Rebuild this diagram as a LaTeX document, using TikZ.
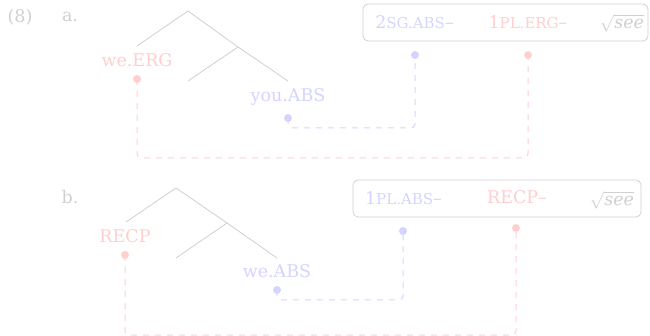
\documentclass[tikz,border=0pt]{standalone}
\usepackage{fontspec}
\setmainfont{DejaVu Serif}
\definecolor{gr}{RGB}{208,208,208}
\definecolor{rd}{RGB}{255,207,207}
\definecolor{bl}{RGB}{212,212,255}
\newcommand{\fsc}[1]{{\fontsize{15}{18}\selectfont #1}}
\begin{document}
\begin{tikzpicture}[x=1pt,y=-1pt,
  every node/.style={font=\fontsize{17.5}{21}\selectfont,inner sep=0pt},
  tree/.style={draw=gr,line width=0.8pt},
  rdot/.style={circle,fill=rd,minimum size=8pt,inner sep=0pt},
  bdot/.style={circle,fill=bl,minimum size=8pt,inner sep=0pt},
  rlink/.style={draw=rd,line width=1pt,dash pattern=on 6pt off 6pt,rounded corners=4pt},
  blink/.style={draw=bl,line width=1pt,dash pattern=on 6pt off 6pt,rounded corners=4pt},
  morphbox/.style={draw=gr,line width=0.8pt,rounded corners=5pt,minimum height=37pt,inner sep=0pt}]
\useasboundingbox (0,0) rectangle (650,336);
% labels
\node[text=gr] (ex) at (20,17) {(8)};
\node[text=gr] (la) at (70,17) {a.};
\node[text=gr] (lb) at (70,197) {b.};
% ---- a ----
\coordinate (aT) at (188,11);
\coordinate (aL) at (137,46);
\coordinate (aM) at (238,47);
\coordinate (aML) at (188,81);
\coordinate (aMR) at (288,81);
\draw[tree] (aL) -- (aT) -- (aM) -- (aMR);
\draw[tree] (aM) -- (aML);
\node[text=rd] (weerg) at (137,60) {we.ERG};
\node[text=bl] (youabs) at (288,97) {you.ABS};
\node[morphbox,minimum width=285pt] (boxa) at (505.5,22.5) {};
\node[text=bl] (m2sg) at (414.5,22) {2\fsc{SG.ABS}--};
\node[text=rd] (m1pl) at (528,22) {1\fsc{PL.ERG}--};
\node[text=gr] (seea) at (622,23.5) {$\sqrt{\mbox{\itshape see}}$};
\node[rdot] (d1) at (137,79) {};
\node[bdot] (d2) at (288,118) {};
\node[bdot] (d3) at (415,55) {};
\node[rdot] (d4) at (528,55) {};
\draw[blink] (d2.center) -- (288,128) -- (415,128) -- (d3.center);
\draw[rlink] (d1.center) -- (137,158) -- (528,158) -- (d4.center);
% ---- b ----
\coordinate (bT) at (176,188);
\coordinate (bL) at (126,222);
\coordinate (bM) at (227,223);
\coordinate (bML) at (176,258);
\coordinate (bMR) at (277,258);
\draw[tree] (bL) -- (bT) -- (bM) -- (bMR);
\draw[tree] (bM) -- (bML);
\node[text=rd] (recp) at (125,236) {RECP};
\node[text=bl] (weabs) at (277,271) {we.ABS};
\node[morphbox,minimum width=288pt] (boxb) at (497,198.5) {};
\node[text=bl] (m1plabs) at (403.5,198) {1\fsc{PL.ABS}--};
\node[text=rd] (mrecp) at (517,197) {RECP--};
\node[text=gr] (seeb) at (612,200) {$\sqrt{\mbox{\itshape see}}$};
\node[rdot] (e1) at (125,255) {};
\node[bdot] (e2) at (277,290) {};
\node[bdot] (e3) at (403,231) {};
\node[rdot] (e4) at (516,228) {};
\draw[blink] (e2.center) -- (277,300) -- (403,300) -- (e3.center);
\draw[rlink] (e1.center) -- (125,335) -- (516,335) -- (e4.center);
\end{tikzpicture}
\end{document}
